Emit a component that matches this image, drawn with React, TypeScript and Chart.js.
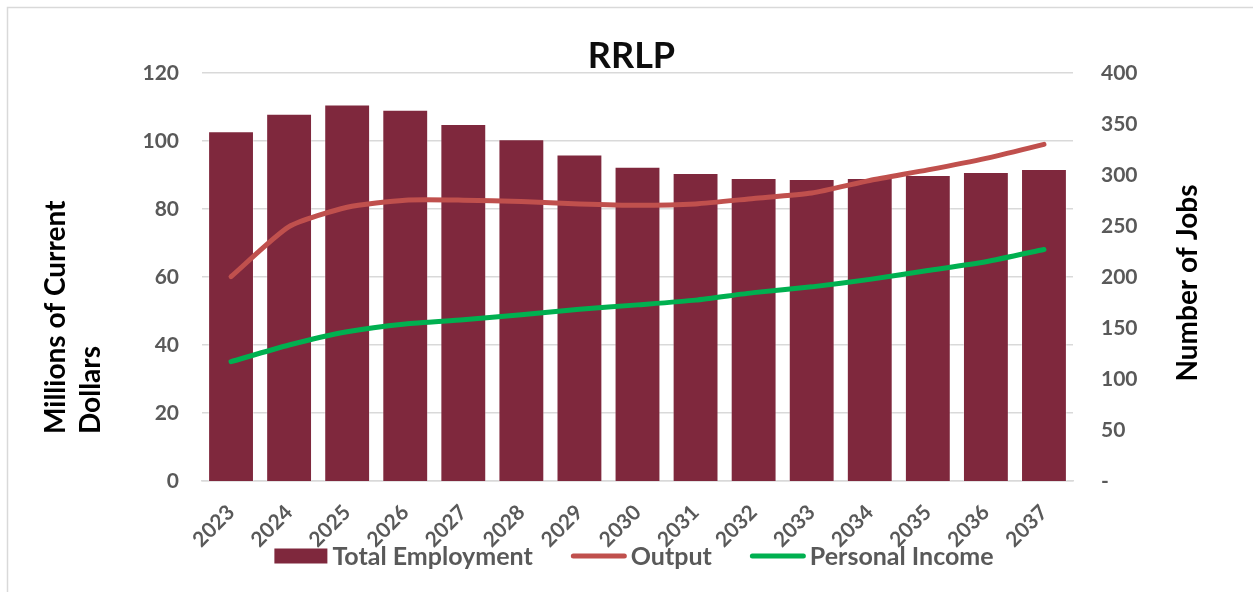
import React, { useEffect, useRef } from "react";
import { Chart, registerables } from "chart.js";

Chart.register(...registerables);

// ---- Data ----
const years = ["2023", "2024", "2025", "2026", "2027", "2028", "2029", "2030", "2031", "2032", "2033", "2034", "2035", "2036", "2037"];
const totalEmployment = [343, 360, 369, 364, 350, 335, 320, 308, 302, 297, 296, 297, 300, 303, 306];
const outputMillions = [60.1, 74.8, 80.5, 82.6, 82.6, 82.2, 81.5, 81.1, 81.5, 83.1, 84.7, 88.4, 91.5, 94.9, 99.0];
const personalIncome = [35.1, 40.0, 43.9, 46.2, 47.4, 48.9, 50.5, 51.8, 53.2, 55.4, 57.1, 59.3, 61.9, 64.5, 68.1];

const chartTitle = "RRLP";
const leftAxisTitle = ["Millions of Current", "Dollars"];
const rightAxisTitle = "Number of Jobs";
const seriesLabels = ["Total Employment", "Output", "Personal Income"];

const FONT = "Lato, 'Open Sans', sans-serif";
const BAR_COLOR = "#7F283D";
const OUTPUT_COLOR = "#C0504D";
const INCOME_COLOR = "#00B050";
const GRID_COLOR = "#D9D9D9";
const TICK_COLOR = "#595959";

const decorPlugin = {
  id: "decor",
  beforeDraw(chart: any) {
    const ctx = chart.ctx;
    ctx.save();
    ctx.fillStyle = "#ffffff";
    ctx.fillRect(0, 0, chart.width, chart.height);
    ctx.strokeStyle = "#D9D9D9";
    ctx.lineWidth = 1.5;
    ctx.strokeRect(7.5, 7.5, chart.width + 20, chart.height + 20);
    ctx.restore();
  },
  afterDraw(chart: any) {
    const ctx = chart.ctx;
    const area = chart.chartArea;
    ctx.save();
    // Title
    ctx.fillStyle = "#0D0D0D";
    ctx.font = `bold 36px ${FONT}`;
    ctx.textAlign = "center";
    ctx.textBaseline = "alphabetic";
    ctx.fillText(chartTitle, (area.left + area.right) / 2 - 6, area.top - 5);

    // Left axis title (two lines, start-aligned, rotated)
    ctx.font = `bold 28px ${FONT}`;
    ctx.fillStyle = "#000000";
    ctx.textAlign = "left";
    const startY = area.bottom - 47;
    const lineXs = [area.left - 137, area.left - 102];
    leftAxisTitle.forEach((t, i) => {
      ctx.save();
      ctx.translate(lineXs[i], startY);
      ctx.rotate(-Math.PI / 2);
      ctx.fillText(t, 0, 0);
      ctx.restore();
    });

    // Right axis title
    ctx.save();
    ctx.textAlign = "center";
    ctx.translate(area.right + 124, (area.top + area.bottom) / 2 + 6);
    ctx.rotate(-Math.PI / 2);
    ctx.fillText(rightAxisTitle, 0, 0);
    ctx.restore();

    // Legend
    ctx.font = `bold 25px ${FONT}`;
    ctx.textBaseline = "middle";
    ctx.textAlign = "left";
    const ly = 556;
    const items = chart.data.datasets.map((ds: any) => ({
      label: ds.label,
      color: ds.type === "line" ? ds.borderColor : ds.backgroundColor,
      kind: ds.type === "line" ? "line" : "box",
    }));
    items.sort((a: any, b: any) => seriesLabels.indexOf(a.label) - seriesLabels.indexOf(b.label));
    const symW = (k: string) => (k === "box" ? 53 : 56);
    const symGap = (k: string) => (k === "box" ? 5 : 4);
    const itemGap = 38;
    let total = 0;
    items.forEach((it: any, i: number) => {
      total += symW(it.kind) + symGap(it.kind) + ctx.measureText(it.label).width;
      if (i < items.length - 1) total += itemGap;
    });
    let x = 634 - total / 2;
    items.forEach((it: any) => {
      if (it.kind === "box") {
        ctx.fillStyle = it.color;
        ctx.fillRect(x, ly - 7.5, symW(it.kind), 15);
      } else {
        ctx.strokeStyle = it.color;
        ctx.lineWidth = 5;
        ctx.lineCap = "round";
        ctx.beginPath();
        ctx.moveTo(x + 2.5, ly);
        ctx.lineTo(x + symW(it.kind) - 2.5, ly);
        ctx.stroke();
      }
      x += symW(it.kind) + symGap(it.kind);
      ctx.fillStyle = TICK_COLOR;
      ctx.fillText(it.label, x, ly + 1);
      x += ctx.measureText(it.label).width + itemGap;
    });
    ctx.restore();
  },
};

export default function App() {
  const ref = useRef<HTMLCanvasElement | null>(null);

  useEffect(() => {
    if (!ref.current) return;
    const chart = new Chart(ref.current, {
      type: "bar",
      data: {
        labels: years,
        datasets: [
          {
            type: "line",
            label: seriesLabels[1],
            data: outputMillions,
            borderColor: OUTPUT_COLOR,
            backgroundColor: OUTPUT_COLOR,
            borderWidth: 5,
            pointRadius: 0,
            tension: 0.2,
            borderCapStyle: "round",
            borderJoinStyle: "round",
            yAxisID: "y",
            order: 0,
          },
          {
            type: "line",
            label: seriesLabels[2],
            data: personalIncome,
            borderColor: INCOME_COLOR,
            backgroundColor: INCOME_COLOR,
            borderWidth: 5,
            pointRadius: 0,
            tension: 0.2,
            borderCapStyle: "round",
            borderJoinStyle: "round",
            yAxisID: "y",
            order: 0,
          },
          {
            type: "bar",
            label: seriesLabels[0],
            data: totalEmployment,
            backgroundColor: BAR_COLOR,
            borderColor: "rgba(255,255,255,0.35)",
            borderWidth: 1,
            barPercentage: 0.79,
            categoryPercentage: 1,
            yAxisID: "y1",
            order: 1,
          },
        ],
      } as any,
      options: {
        responsive: false,
        animation: false,
        devicePixelRatio: 1,
        layout: { padding: { top: 73, left: 0, right: 0, bottom: 0 } },
        plugins: {
          legend: { display: false },
          title: { display: false },
          tooltip: { enabled: false },
        },
        scales: {
          x: {
            grid: { display: false, drawTicks: false },
            border: { display: true, color: GRID_COLOR, width: 1.5 },
            ticks: {
              color: TICK_COLOR,
              font: { family: FONT, size: 21, weight: "bold" },
              maxRotation: 45,
              minRotation: 45,
              padding: 19,
              autoSkip: false,
            },
            afterFit: (s: any) => {
              s.height = 111;
            },
          },
          y: {
            position: "left",
            min: 0,
            max: 120,
            ticks: {
              stepSize: 20,
              color: TICK_COLOR,
              font: { family: FONT, size: 21, weight: "bold" },
              padding: 23,
            },
            grid: { color: GRID_COLOR, lineWidth: 1.5, drawTicks: false },
            border: { display: false },
            afterFit: (s: any) => {
              s.width = 202;
            },
          },
          y1: {
            position: "right",
            min: 0,
            max: 400,
            ticks: {
              stepSize: 50,
              color: TICK_COLOR,
              font: { family: FONT, size: 21, weight: "bold" },
              padding: 28,
              callback: (v: any) => (v === 0 ? "-" : String(v)),
            },
            grid: { display: false, drawTicks: false },
            border: { display: false },
            afterFit: (s: any) => {
              s.width = 180;
            },
          },
        },
      } as any,
      plugins: [decorPlugin],
    });
    return () => chart.destroy();
  }, []);

  return (
    <div style={{ position: "absolute", left: 0, top: 0, width: 1253, height: 592, background: "#fff" }}>
      <canvas ref={ref} width={1253} height={592} style={{ display: "block", width: 1253, height: 592 }} />
    </div>
  );
}
